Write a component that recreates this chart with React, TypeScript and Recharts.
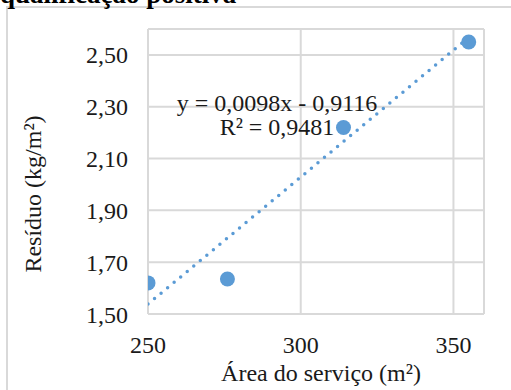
import React from 'react';
import { ScatterChart, Scatter, XAxis, YAxis, CartesianGrid } from 'recharts';

const areaValues = [250, 276, 314, 355];
const residueValues = [1.62, 1.635, 2.22, 2.55];
const trendX = [250, 355];
const trendY = [1.5384, 2.5674];
const xTicks = [250, 300, 350];
const yTicks = [1.5, 1.7, 1.9, 2.1, 2.3, 2.5];
const titleText = 'qualificação positiva';
const equationText = 'y = 0,0098x - 0,9116';
const r2Text = 'R² = 0,9481';
const xTitle = 'Área do serviço (m²)';
const yTitle = 'Resíduo (kg/m²)';

const points = areaValues.map((x, i) => ({ x, y: residueValues[i] }));
const trend = trendX.map((x, i) => ({ x, y: trendY[i] }));

const BLUE = '#5B9BD5';
const GRID = '#d9d9d9';
const FONT = 'Liberation Serif, Times New Roman, serif';
const TEXT = '#1a1a1a';

const fmt = (v: number) => v.toFixed(2).replace('.', ',');

const Dot = (props: any) => (
  <circle cx={props.cx} cy={props.cy} r={7.5} fill={BLUE} />
);
const NoDot = () => <g />;

export default function App() {
  return (
    <div style={{ position: 'absolute', left: 0, top: 0, width: 511, height: 390, background: '#fff', overflow: 'hidden' }}>
      <div style={{ position: 'absolute', left: 6, top: 6, width: 520, height: 400, borderTop: `2px solid ${GRID}`, borderLeft: `2px solid ${GRID}` }} />
      <div style={{ position: 'absolute', left: 0, top: 0 }}>
        <ScatterChart width={511} height={390} margin={{ top: 29, right: 27, left: 0, bottom: 0 }}>
          <CartesianGrid stroke={GRID} strokeWidth={2} />
          <XAxis
            type="number"
            dataKey="x"
            domain={[250, 360]}
            ticks={xTicks}
            allowDataOverflow
            height={76}
            tickLine={false}
            tickSize={0}
            tickMargin={22}
            axisLine={{ stroke: GRID, strokeWidth: 2 }}
            tick={{ fontFamily: FONT, fontSize: 24, fill: TEXT }}
          />
          <YAxis
            type="number"
            dataKey="y"
            domain={[1.5, 2.6]}
            ticks={yTicks}
            allowDataOverflow
            width={148}
            tickLine={false}
            tickSize={0}
            tickMargin={20}
            tickFormatter={fmt}
            axisLine={{ stroke: GRID, strokeWidth: 2 }}
            tick={{ fontFamily: FONT, fontSize: 24, fill: TEXT }}
          />
          <Scatter
            data={trend}
            isAnimationActive={false}
            shape={NoDot}
            line={{ stroke: BLUE, strokeWidth: 3.5, strokeDasharray: '0 8.5', strokeLinecap: 'round' }}
            legendType="none"
          />
          <Scatter data={points} isAnimationActive={false} shape={Dot} fill={BLUE} />
        </ScatterChart>
      </div>
      <svg width={511} height={390} style={{ position: 'absolute', left: 0, top: 0, pointerEvents: 'none' }}>
        <text x={0} y={3} fontFamily={FONT} fontWeight="bold" fontSize={27} fill="#000">{titleText}</text>
        <text x={277} y={111} textAnchor="middle" fontFamily={FONT} fontSize={24} fill={TEXT}>{equationText}</text>
        <text x={277} y={135} textAnchor="middle" fontFamily={FONT} fontSize={24} fill={TEXT}>{r2Text}</text>
        <text x={321} y={381} textAnchor="middle" fontFamily={FONT} fontSize={24} fill={TEXT}>{xTitle}</text>
        <text x={41} y={194} textAnchor="middle" transform="rotate(-90 41 194)" fontFamily={FONT} fontSize={24} fill={TEXT}>{yTitle}</text>
      </svg>
    </div>
  );
}
